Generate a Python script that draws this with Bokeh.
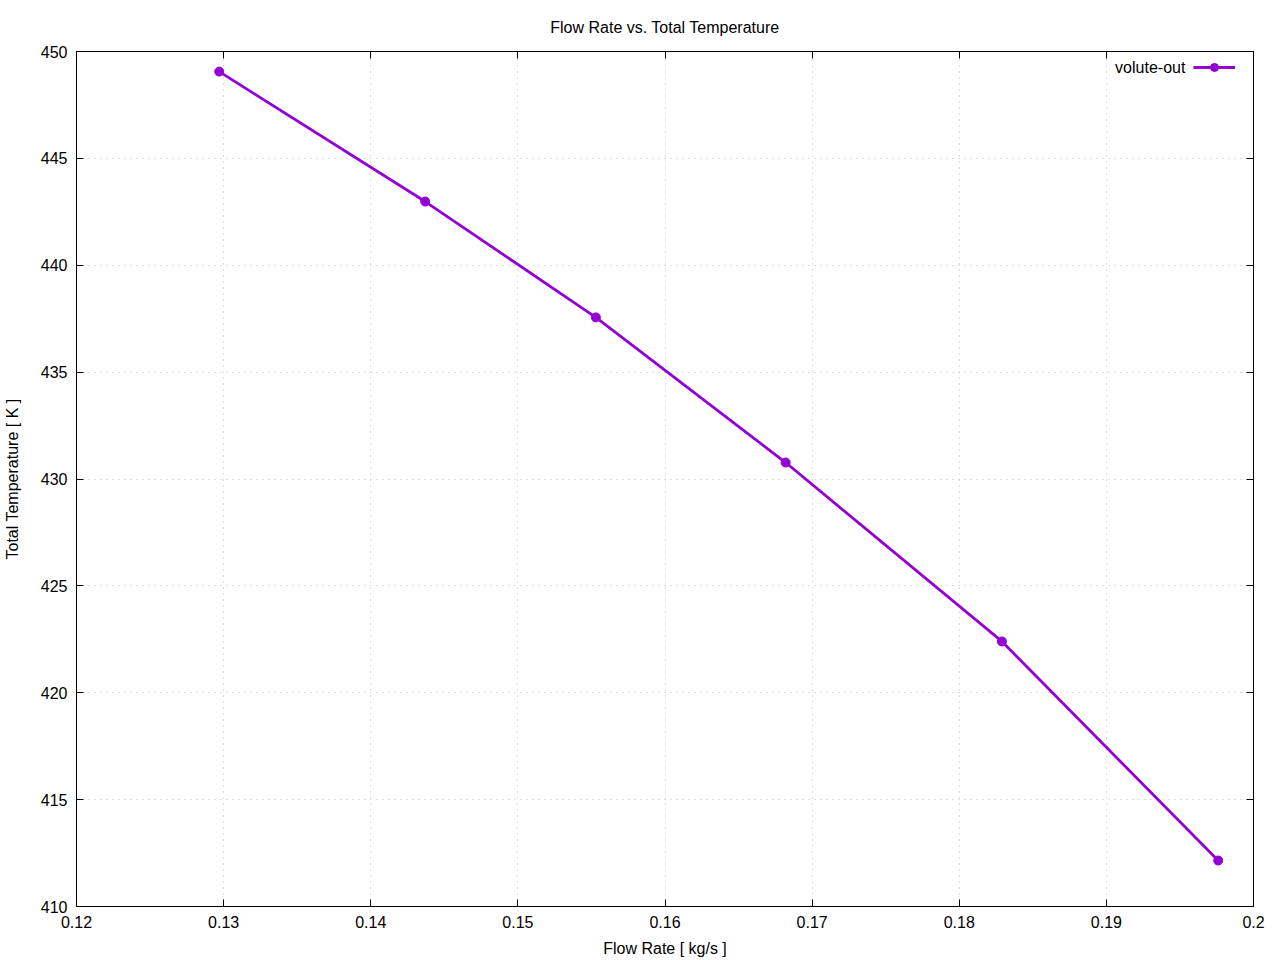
from bokeh.plotting import figure
from bokeh.models import (LinearAxis, FixedTicker, Legend, LegendItem, Label, Range1d,
                          CustomLabelingPolicy)
from bokeh.embed import file_html
from bokeh.resources import INLINE

flow_rate = [0.1297, 0.1437, 0.1553, 0.1682, 0.1829, 0.1976]
total_temp = [449.06, 442.98, 437.56, 430.77, 422.40, 412.15]
series_name = "volute-out"
x_ticks = [0.12, 0.13, 0.14, 0.15, 0.16, 0.17, 0.18, 0.19, 0.2]
x_tick_labels = ["0.12", "0.13", "0.14", "0.15", "0.16", "0.17", "0.18", "0.19", "0.2"]
y_ticks = [410, 415, 420, 425, 430, 435, 440, 445, 450]
y_tick_labels = ["410", "415", "420", "425", "430", "435", "440", "445", "450"]

FONT = "Liberation Sans"
COLOR = "#9400D3"
FS = "16px"

p = figure(width=1272, height=960, output_backend="svg", toolbar_location=None,
           x_range=Range1d(0.12, 0.2), y_range=Range1d(410, 450),
           min_border_left=76, min_border_right=19, min_border_top=51, min_border_bottom=54,
           title="Flow Rate vs. Total Temperature")
p.title.align = "center"
p.title.text_font = FONT
p.title.text_font_size = FS
p.title.text_font_style = "normal"
p.title.text_color = "black"
p.title.offset = 0
p.title.standoff = 23

p.outline_line_color = "black"
p.outline_line_width = 1
p.outline_line_alpha = 1

xlabels = dict(zip(x_ticks, x_tick_labels))
ylabels = dict(zip(y_ticks, y_tick_labels))

hide_all = CustomLabelingPolicy(code="""
const ids = [...indices];
for (const i of ids) indices.unset(i);
return indices;
""")

def style_axis(ax, ticks, labels, show_labels=True):
    ax.ticker = FixedTicker(ticks=ticks)
    ax.major_tick_in = 7
    ax.major_tick_out = 0
    ax.minor_tick_in = 0
    ax.minor_tick_out = 0
    ax.major_tick_line_color = "black"
    ax.axis_line_color = "black"
    ax.major_label_text_font = FONT
    ax.major_label_text_color = "black"
    ax.axis_label_text_font = FONT
    ax.axis_label_text_font_size = FS
    ax.axis_label_text_font_style = "normal"
    ax.axis_label_text_color = "black"
    if show_labels:
        ax.major_label_overrides = labels
        ax.major_label_text_font_size = FS
    else:
        ax.major_label_text_font_size = "1px"
        ax.major_label_standoff = 0
        ax.major_label_policy = hide_all

style_axis(p.xaxis[0], x_ticks, xlabels)
style_axis(p.yaxis[0], y_ticks, ylabels)
p.xaxis[0].axis_label = "Flow Rate [ kg/s ]"
p.yaxis[0].axis_label = "Total Temperature [ K ]"
p.xaxis[0].major_label_standoff = 9
p.xaxis[0].axis_label_standoff = 9
p.yaxis[0].major_label_standoff = 9
p.yaxis[0].axis_label_standoff = 17

ax_top = LinearAxis()
style_axis(ax_top, x_ticks, {}, show_labels=False)
p.add_layout(ax_top, "above")
ax_right = LinearAxis()
style_axis(ax_right, y_ticks, {}, show_labels=False)
p.add_layout(ax_right, "right")

for g in (p.xgrid[0], p.ygrid[0]):
    g.grid_line_color = "#bdbdbd"
    g.grid_line_dash = "1 5"
    g.grid_line_width = 1
p.xgrid[0].ticker = FixedTicker(ticks=x_ticks)
p.ygrid[0].ticker = FixedTicker(ticks=y_ticks)

ln = p.line(flow_rate, total_temp, line_color=COLOR, line_width=2.8)
sc = p.scatter(flow_rate, total_temp, size=9, fill_color=COLOR, line_color=COLOR)

legend = Legend(items=[LegendItem(label=" ", renderers=[ln, sc])],
                location=(1117, 829), orientation="vertical",
                border_line_alpha=0, background_fill_alpha=0,
                glyph_width=42, glyph_height=20, label_width=0, label_standoff=0,
                label_height=20, padding=0, margin=0, spacing=0,
                label_text_font_size="1px")
p.add_layout(legend)

p.add_layout(Label(x=0.19537, y=449.25, text=series_name, text_align="right",
                   text_baseline="middle", text_font=FONT, text_font_size=FS,
                   text_color="black"))

open("out.html", "w").write(file_html(p, INLINE))
